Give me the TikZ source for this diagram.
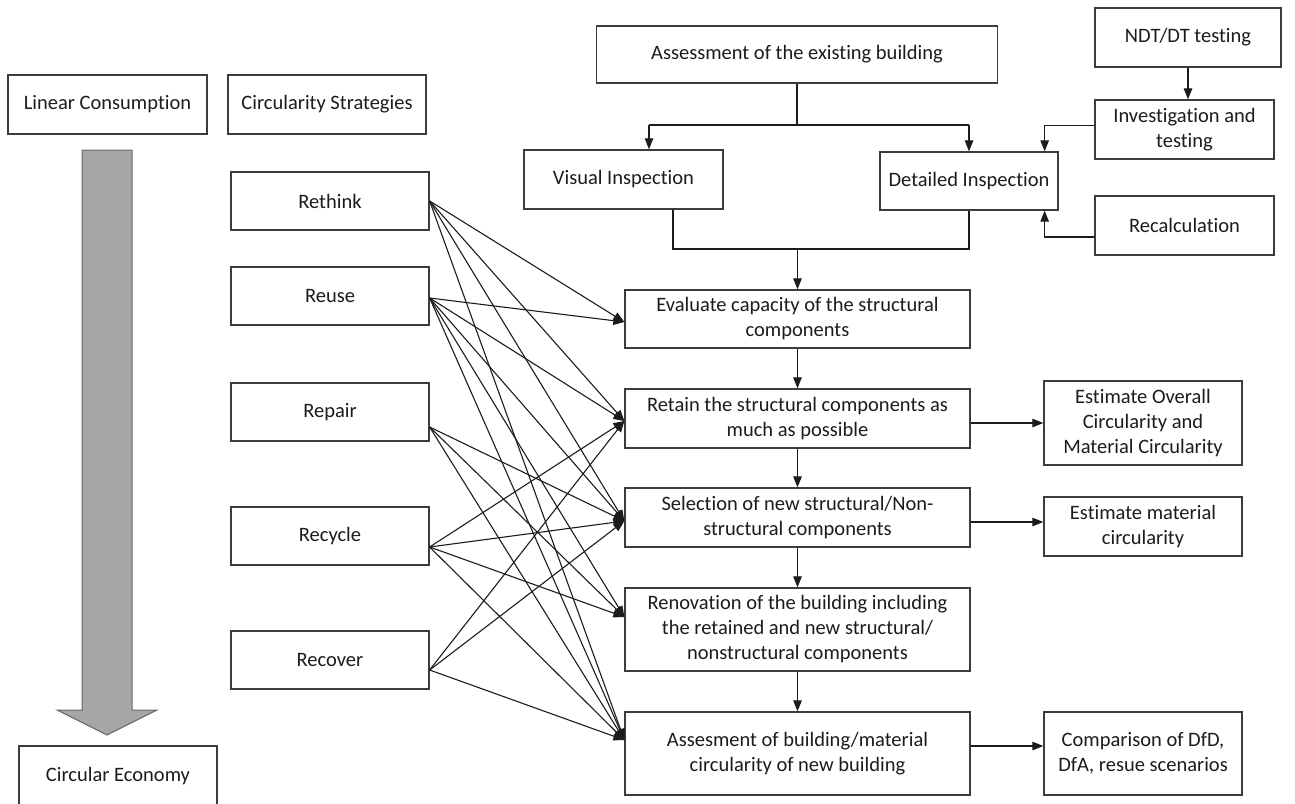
\documentclass[tikz,border=0pt]{standalone}
\usepackage{fontspec}
\setmainfont{Carlito}[Ligatures=NoCommon]
\usetikzlibrary{arrows.meta,calc}
\definecolor{boxline}{HTML}{3C3C3C}
\definecolor{ink}{HTML}{1C1C1C}
\definecolor{shaftfill}{HTML}{A6A6A6}
\definecolor{shaftedge}{HTML}{666666}

\begin{document}
\begin{tikzpicture}[x=1pt,y=-1pt,
  box/.style={draw=boxline, line width=1.3pt, fill=white, text=ink, align=center,
              inner sep=2pt, font=\fontsize{20.5}{25}\selectfont},
  link/.style={draw=ink, line width=1.1pt, -{Triangle[length=11pt,width=8.5pt]}},
  plain/.style={draw=ink, line width=1.1pt},
]
\useasboundingbox (0,0) rectangle (1295,803);

% ---------- left: linear to circular ----------
\node[box, minimum width=199pt, minimum height=59pt] (lin) at (107.5,104.5) {Linear Consumption};
\node[box, minimum width=198pt, minimum height=59pt] (cs)  at (327,104.5) {Circularity Strategies};
\node[box, minimum width=198pt, minimum height=60pt] (ce)  at (118,776) {Circular Economy};

% broad grey arrow
\draw[fill=shaftfill, draw=shaftedge, line width=1pt]
  (82,150) -- (132,150) -- (132,710) -- (157,710) -- (107,735) -- (57,710) -- (82,710) -- cycle;

% ---------- circularity strategies ----------
\node[box, minimum width=198pt, minimum height=58pt] (rethink) at (330,201) {Rethink};
\node[box, minimum width=198pt, minimum height=58pt] (reuse)   at (330,296) {Reuse};
\node[box, minimum width=198pt, minimum height=58pt] (repair)  at (330,412) {Repair};
\node[box, minimum width=198pt, minimum height=58pt] (recycle) at (330,536) {Recycle};
\node[box, minimum width=198pt, minimum height=58pt] (recover) at (330,660) {Recover};

% ---------- assessment block ----------
\node[box, minimum width=401pt, minimum height=57pt] (assess) at (797,54.5) {Assessment of the existing building};
\node[box, minimum width=186pt, minimum height=59pt] (ndt)    at (1188,37.5) {NDT/DT testing};
\node[box, minimum width=179pt, minimum height=59pt] (invest) at (1184.5,129.5) {Investigation and\\testing};
\node[box, minimum width=199pt, minimum height=59pt] (visual) at (623.5,179.5) {Visual Inspection};
\node[box, minimum width=178pt, minimum height=58pt] (detail) at (969,181) {Detailed Inspection};
\node[box, minimum width=179pt, minimum height=59pt] (recalc) at (1184.5,225.5) {Recalculation};

% ---------- main process column ----------
\node[box, minimum width=345pt, minimum height=58pt] (eval)   at (797.5,319)   {Evaluate capacity of the structural\\components};
\node[box, minimum width=345pt, minimum height=59pt] (retain) at (797.5,418.5) {Retain the structural components as\\much as possible};
\node[box, minimum width=345pt, minimum height=59pt] (select) at (797.5,517.5) {Selection of new structural/Non-\\structural components};
\node[box, minimum width=345pt, minimum height=83pt] (renov)  at (797.5,629.5) {Renovation of the building including\\the retained and new structural/\\nonstructural components};
\node[box, minimum width=345pt, minimum height=83pt] (final)  at (797.5,753.5) {Assesment of building/material\\circularity of new building};

% ---------- outcomes ----------
\node[box, minimum width=198pt, minimum height=84pt] (overall) at (1143,423)   {Estimate Overall\\Circularity and\\Material Circularity};
\node[box, minimum width=198pt, minimum height=59pt] (matcirc) at (1143,526.5) {Estimate material\\circularity};
\node[box, minimum width=198pt, minimum height=83pt] (compare) at (1143,753.5) {Comparison of DfD,\\DfA, resue scenarios};

% ---------- assessment connectors ----------
\coordinate (sl) at (649,125);
\coordinate (sr) at (969,125);
\draw[plain] (assess.south) -- (assess.south |- sl);
\draw[plain] (sl) -- (sr);
\draw[link] (sl) -- (sl |- visual.north);
\draw[link] (sr) -- (sr |- detail.north);

\draw[link] (ndt.south) -- (ndt.south |- invest.north);
\draw[link] ([yshift=4pt]invest.west) -| ([xshift=-14pt]detail.north east);
\draw[link] ([yshift=-11.5pt]recalc.west) -| ([xshift=-14pt]detail.south east);

\coordinate (ml) at (673,249);
\draw[plain] (ml |- visual.south) -- (ml) -- (detail.south |- ml) -- (detail.south);
\draw[link] (eval.north |- ml) -- (eval.north);

% ---------- process column connectors ----------
\draw[link] (eval.south) -- (retain.north);
\draw[link] (retain.south) -- (select.north);
\draw[link] (select.south) -- (renov.north);
\draw[link] (renov.south) -- (final.north);

\draw[link] (retain.east |- overall.west) -- (overall.west);
\draw[link] ([yshift=-4.5pt]select.east) coordinate (se) -- (se -| matcirc.west);
\draw[link] ([yshift=7.5pt]final.east) coordinate (fe) -- (fe -| compare.west);

% ---------- strategy links ----------
\coordinate (s-rethink) at (rethink.east);
\coordinate (s-reuse)   at ([yshift=-2pt]reuse.east);
\coordinate (s-repair)  at ([yshift=-15pt]repair.east);
\coordinate (s-recycle) at ([yshift=-11pt]recycle.east);
\coordinate (s-recover) at ([yshift=-10pt]recover.east);

\coordinate (t-eval)   at ([yshift=-3pt]eval.west);
\coordinate (t-retain) at ([yshift=-2.5pt]retain.west);
\coordinate (t-select) at ([yshift=-3.5pt]select.west);
\coordinate (t-renov)  at ([yshift=12.5pt]renov.west);
\coordinate (t-final)  at ([yshift=13.5pt]final.west);

\foreach \t in {eval,retain,select,final}
  \draw[link] (s-rethink) -- (t-\t);
\foreach \t in {eval,retain,select,renov,final}
  \draw[link] (s-reuse) -- (t-\t);
\foreach \t in {select,renov,final}
  \draw[link] (s-repair) -- (t-\t);
\foreach \t in {retain,select,renov,final}
  \draw[link] (s-recycle) -- (t-\t);
\foreach \t in {retain,select,final}
  \draw[link] (s-recover) -- (t-\t);
\end{tikzpicture}
\end{document}
